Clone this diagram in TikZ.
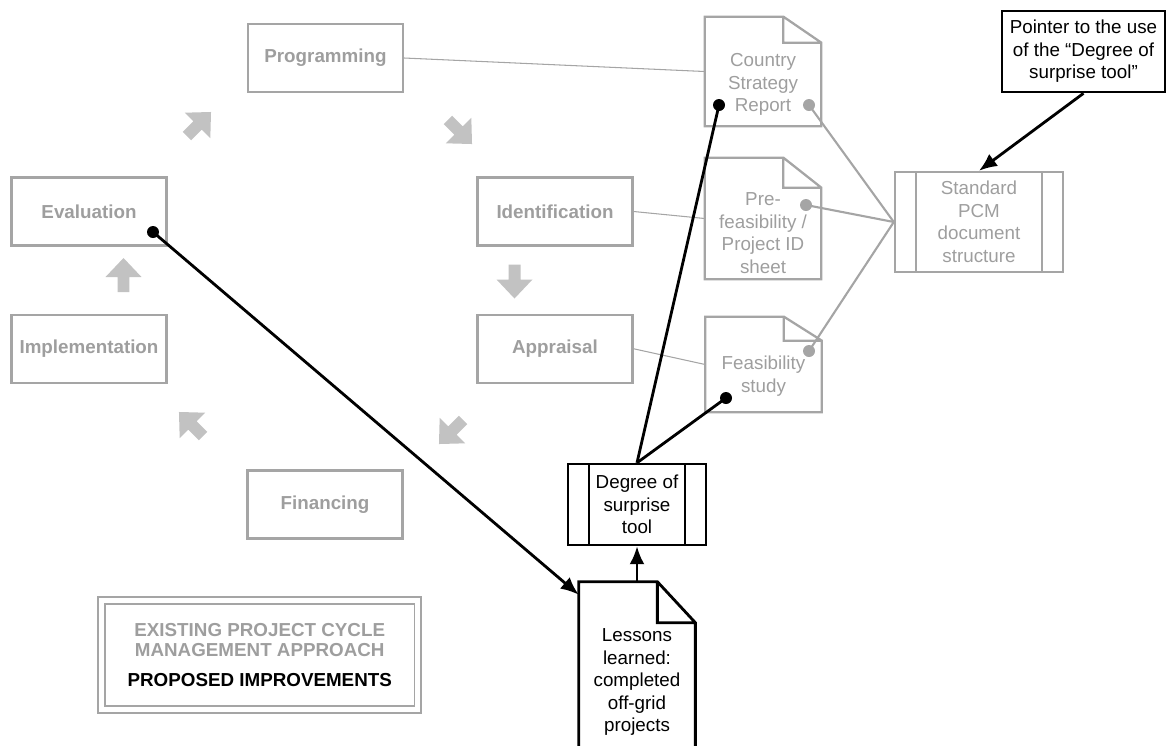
\documentclass[tikz,border=0pt]{standalone}
\usepackage{fontspec}
\setmainfont{Liberation Sans}
\usepackage{xcolor}
\usepackage{tikz}
\usetikzlibrary{arrows.meta}
\usetikzlibrary{shapes,positioning}
\definecolor{pcmgray}{RGB}{165,165,165}
\definecolor{pcmtext}{RGB}{158,158,158}
\definecolor{pcmarrow}{RGB}{194,194,194}
\newcommand{\pcmfont}{\fontsize{10.7}{12.8}\selectfont}
\tikzset{>={Latex[length=0.36cm,width=0.3cm]}}
\tikzset{pcm-line/.style={line width=0.6pt, draw=pcmgray}}
\tikzset{doc-line/.style={line width=1.2pt, draw=pcmgray}}
\tikzset{link-line/.style={line width=1.6pt, draw=black}}
\tikzset{stage-node/.style={draw=pcmgray, line width=1.3pt, minimum width=3.1cm, minimum height=1.36cm, inner sep=0, text=pcmtext, font=\pcmfont\bfseries}}
\tikzset{doc-node/.style={inner sep=0, minimum width=2.32cm}}
\tikzset{doc-gray/.style={draw=pcmgray, line width=1.3pt}}
\tikzset{doc-black/.style={draw=black, line width=1.6pt}}
\tikzset{doc-text/.style={align=center, inner sep=0, font=\pcmfont}}
\tikzset{tool-node/.style={draw=#1, line width=1.4pt, inner sep=0, align=center, font=\pcmfont,
        path picture={
            \draw[draw=#1, line width=1.4pt] ([xshift=0.42cm]path picture bounding box.north west) -- ([xshift=0.42cm]path picture bounding box.south west);
            \draw[draw=#1, line width=1.4pt] ([xshift=-0.42cm]path picture bounding box.north east) -- ([xshift=-0.42cm]path picture bounding box.south east);
        }
    },
    tool-node/.default=black
}
% outline of a document with a folded corner: node, fold width, fold height, style
\newcommand{\docoutline}[4]{%
    \draw[#4] (#1.south west) -- (#1.north west) -- ([xshift=-#2]#1.north east)
        -- ([yshift=-#3]#1.north east) -- (#1.south east) -- cycle
        ([xshift=-#2]#1.north east) |- ([yshift=-#3]#1.north east);
}
% grey block arrow of the cycle: x, y, angle
\newcommand{\cyclearrow}[3]{%
    \fill[pcmarrow, shift={(#1,#2)}, rotate=#3] (0,0.34cm) -- (0.36cm,-0.04cm) -- (0.12cm,-0.04cm)
        -- (0.12cm,-0.34cm) -- (-0.12cm,-0.34cm) -- (-0.12cm,-0.04cm) -- (-0.36cm,-0.04cm) -- cycle;
}
\begin{document}
\begin{tikzpicture}[x=0.02cm, y=-0.02cm]
            \useasboundingbox (0,0) rectangle (1167,745);

            \node[stage-node] (programming) at (325.5,58) {Programming};
            \node[stage-node] (evaluation) at (89,211.5) {Evaluation};
            \node[stage-node, below=1.34cm of evaluation] (implementation) {Implementation};
            \node[stage-node] (identification) at (555,211.5) {Identification};
            \node[stage-node, below=1.34cm of identification] (appraisal) {Appraisal};
            \node[stage-node] (financing) at (325,504.5) {Financing};

            \cyclearrow{199}{124}{-45}
            \cyclearrow{460}{132}{-135}
            \cyclearrow{514.5}{281.5}{180}
            \cyclearrow{451}{432}{135}
            \cyclearrow{191}{424}{45}
            \cyclearrow{123.5}{275}{0}

            \node[doc-node, minimum height=2.18cm] (strategy) at (763,71.5) {};
            \docoutline{strategy}{0.76cm}{0.52cm}{doc-gray}
            \node[doc-text, text=pcmtext] (strategy-text) at ([yshift=-0.26cm]strategy.center) {Country\\Strategy\\Report};

            \node[doc-node, minimum height=2.42cm] (prefeasibility) at (763,218.5) {};
            \docoutline{prefeasibility}{0.76cm}{0.6cm}{doc-gray}
            \node[doc-text, text=pcmtext] (prefeasibility-text) at ([yshift=-0.29cm]prefeasibility.center) {Pre-\\feasibility /\\Project ID\\sheet};

            \node[doc-node, minimum height=1.9cm] (feasibility) at (763.5,364.5) {};
            \docoutline{feasibility}{0.76cm}{0.48cm}{doc-gray}
            \node[doc-text, text=pcmtext] (feasibility-text) at ([yshift=-0.23cm]feasibility.center) {Feasibility\\study};

            \node[doc-node, minimum height=3.32cm] (lessons) at (637,665) {};
            \docoutline{lessons}{0.76cm}{0.82cm}{doc-black}
            \node[doc-text] (lessons-text) at ([yshift=-0.34cm]lessons.center) {Lessons\\learned:\\completed\\off-grid\\projects};

            \node[tool-node=pcmgray, text=pcmtext, minimum width=3.36cm, minimum height=2cm] (standard) at (979,222) {Standard\\PCM\\document\\structure};
            \node[tool-node, minimum width=2.76cm, minimum height=1.62cm] (degree) at (637,504.5) {Degree of\\surprise\\tool};
            \node[draw, line width=1.5pt, inner sep=0, minimum width=3.26cm, minimum height=1.62cm, align=center, font=\pcmfont] (pointer) at (1083.5,51.5) {Pointer to the use\\of the “Degree of\\surprise tool”};

            \node[draw=pcmgray, line width=1pt, double=white, double distance=0.1cm, minimum width=6.33cm, minimum height=2.18cm, align=center, font=\fontsize{10.7}{11.3}\selectfont\bfseries] (legend) at (259.75,655)
                {\textcolor{pcmtext}{EXISTING PROJECT CYCLE}\\\textcolor{pcmtext}{MANAGEMENT APPROACH}\\[5.7pt]PROPOSED IMPROVEMENTS};

            \draw[pcm-line] (programming.east) -- (strategy.west);
            \draw[pcm-line] (identification.east) -- (prefeasibility.west);
            \draw[pcm-line] (appraisal.east) -- (feasibility.west);

            \coordinate (strategy-grey) at (809,105);
            \coordinate (prefeasibility-grey) at (806,205);
            \coordinate (feasibility-grey) at (809,351);
            \draw[doc-line] (strategy-grey) -- (standard.west);
            \draw[doc-line] (prefeasibility-grey) -- (standard.west);
            \draw[doc-line] (feasibility-grey) -- (standard.west);
            \fill[pcmgray] (strategy-grey) circle (0.12cm);
            \fill[pcmgray] (prefeasibility-grey) circle (0.12cm);
            \fill[pcmgray] (feasibility-grey) circle (0.12cm);

            \coordinate (evaluation-dot) at (153,232);
            \coordinate (strategy-dot) at (719,105);
            \coordinate (feasibility-dot) at (726,398);
            \draw[link-line] (degree.north) -- (strategy-dot);
            \draw[link-line] (degree.north) -- (feasibility-dot);
            \draw[link-line, ->] (evaluation-dot) -- ([yshift=-0.26cm]lessons.north west);
            \draw[link-line, ->] (lessons.north) -- (degree.south);
            \draw[link-line, ->] (pointer.south) -- (standard.north);
            \fill (evaluation-dot) circle (0.12cm);
            \fill (strategy-dot) circle (0.12cm);
            \fill (feasibility-dot) circle (0.12cm);

        \end{tikzpicture}
\end{document}
